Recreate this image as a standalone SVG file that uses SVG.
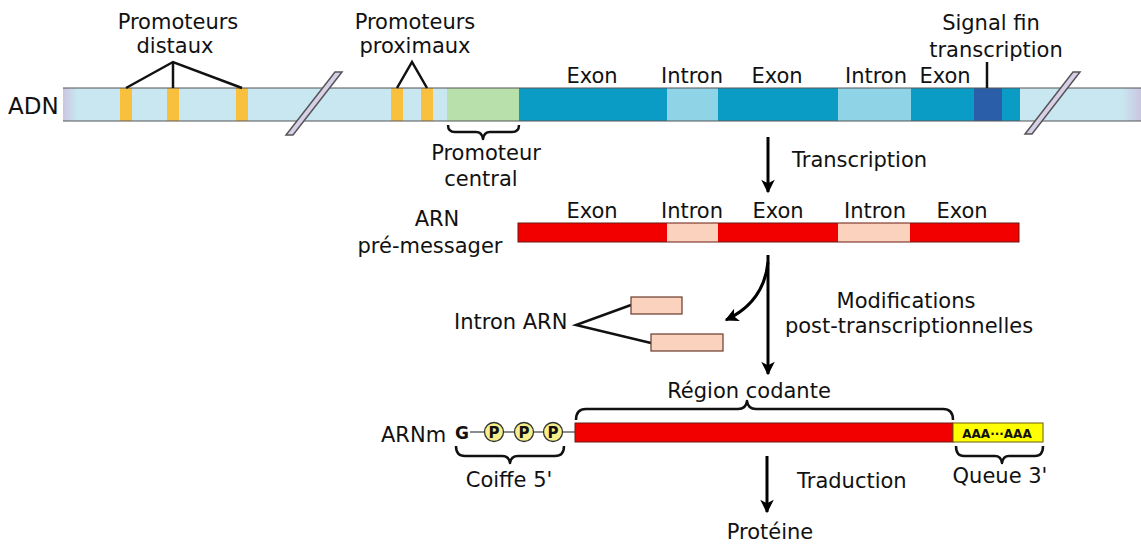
<svg xmlns="http://www.w3.org/2000/svg" width="1141" height="544" viewBox="0 0 1141 544">
  <defs>
    <linearGradient id="fadeL" x1="0" y1="0" x2="1" y2="0">
      <stop offset="0" stop-color="#cbc5e0"/>
      <stop offset="1" stop-color="#c8e7f1"/>
    </linearGradient>
    <linearGradient id="fadeR" x1="0" y1="0" x2="1" y2="0">
      <stop offset="0" stop-color="#c8e7f1"/>
      <stop offset="1" stop-color="#cbc5e0"/>
    </linearGradient>
    <marker id="head" viewBox="0 0 10 10" refX="9" refY="5" markerWidth="5" markerHeight="4.5" orient="auto" markerUnits="strokeWidth">
      <path d="M0,0 L10,5 L0,10 L2.5,5 Z" fill="#000"/>
    </marker>
  </defs>
  <style>
    text { font-family: "DejaVu Sans", "Liberation Sans", sans-serif; font-size: 21px; fill: #111; }
    .mid { text-anchor: middle; }
    .pointer { fill: none; stroke: #111; stroke-width: 2.5; }
    .brace { fill: none; stroke: #111; stroke-width: 2.5; stroke-linejoin: round; }
    .flow { fill: none; stroke: #000; stroke-width: 3; marker-end: url(#head); }
    .edge { stroke: #555; stroke-width: 1.2; }
    .rna { stroke: #6a1a10; stroke-width: 1; }
    .slash { fill: #d8d0e8; stroke: #555; stroke-width: 1.5; }
    .phos { fill: #f7f08a; stroke: #333; stroke-width: 1.3; }
    .p { font-size: 15px; font-weight: bold; text-anchor: middle; }
  </style>
  <rect width="1141" height="544" fill="#fff"/>

  <!-- DNA strand -->
  <g id="adn">
    <rect x="63" y="88" width="1078" height="33" fill="#c8e7f1"/>
    <rect x="63" y="88" width="14" height="33" fill="url(#fadeL)"/>
    <rect x="1122" y="88" width="19" height="33" fill="url(#fadeR)"/>
    <rect x="120" y="88" width="12" height="33" fill="#f9c03e"/>
    <rect x="167" y="88" width="12" height="33" fill="#f9c03e"/>
    <rect x="236" y="88" width="12" height="33" fill="#f9c03e"/>
    <rect x="391" y="88" width="12" height="33" fill="#f9c03e"/>
    <rect x="421" y="88" width="12" height="33" fill="#f9c03e"/>
    <rect x="447" y="88" width="72" height="33" fill="#b7e0aa"/>
    <rect x="519" y="88" width="148" height="33" fill="#0b9cc6"/>
    <rect x="667" y="88" width="51" height="33" fill="#8ed3e6"/>
    <rect x="718" y="88" width="120" height="33" fill="#0b9cc6"/>
    <rect x="838" y="88" width="73" height="33" fill="#8ed3e6"/>
    <rect x="911" y="88" width="63" height="33" fill="#0b9cc6"/>
    <rect x="974" y="88" width="28" height="33" fill="#2b5ea8"/>
    <rect x="1002" y="88" width="18" height="33" fill="#0b9cc6"/>
    <line class="edge" x1="63" y1="88" x2="1141" y2="88"/>
    <line class="edge" x1="63" y1="121" x2="1141" y2="121"/>
    <!-- break marks -->
    <polygon class="slash" points="286,135 293,135 342,72 335,72"/>
    <polygon class="slash" points="1025,134 1032,134 1080,72 1073,72"/>
    <text x="8" y="114" style="font-size:23px">ADN</text>
  </g>

  <g id="promoteurs-distaux">
    <text class="mid" x="178" y="29">Promoteurs</text>
    <text class="mid" x="175" y="53">distaux</text>
    <polyline class="pointer" points="126,88 173,62 242,88"/>
    <line class="pointer" x1="173" y1="62" x2="173" y2="88"/>
  </g>

  <g id="promoteurs-proximaux">
    <text class="mid" x="415" y="29">Promoteurs</text>
    <text class="mid" x="415" y="53">proximaux</text>
    <polyline class="pointer" points="397,88 412,62 427,88"/>
  </g>

  <g id="promoteur-central">
    <path class="brace" d="M448,125 Q448,132 455,132 L476,132 Q482,132 483,139 Q484,132 490,132 L512,132 Q519,132 519,125"/>
    <text class="mid" x="486" y="160">Promoteur</text>
    <text class="mid" x="481" y="186">central</text>
  </g>

  <g id="labels-adn">
    <text class="mid" x="592" y="83">Exon</text>
    <text class="mid" x="692" y="83">Intron</text>
    <text class="mid" x="777" y="83">Exon</text>
    <text class="mid" x="876" y="83">Intron</text>
    <text class="mid" x="945" y="83">Exon</text>
  </g>

  <g id="signal-fin">
    <text class="mid" x="991" y="30">Signal fin</text>
    <text class="mid" x="996" y="57">transcription</text>
    <line class="pointer" x1="987" y1="62" x2="987" y2="88"/>
  </g>

  <!-- pre-messenger RNA -->
  <g id="arn-pre-messager">
    <text class="mid" x="437" y="226">ARN</text>
    <text class="mid" x="430" y="253">pré-messager</text>
    <rect x="518" y="223" width="149" height="19" fill="#f20000"/>
    <rect x="667" y="223" width="51" height="19" fill="#fbd2be"/>
    <rect x="718" y="223" width="120" height="19" fill="#f20000"/>
    <rect x="838" y="223" width="72" height="19" fill="#fbd2be"/>
    <rect x="910" y="223" width="109" height="19" fill="#f20000"/>
    <rect class="rna" x="518" y="223" width="501" height="19" fill="none"/>
    <text class="mid" x="592" y="218">Exon</text>
    <text class="mid" x="692" y="218">Intron</text>
    <text class="mid" x="778" y="218">Exon</text>
    <text class="mid" x="875" y="218">Intron</text>
    <text class="mid" x="962" y="218">Exon</text>
  </g>

  <g id="introns-arn">
    <text x="454" y="329">Intron ARN</text>
    <polyline class="pointer" points="631,305 576,325 651,343"/>
    <rect x="631" y="297" width="51" height="17" fill="#fbd2be" stroke="#6a3a2a" stroke-width="1.2"/>
    <rect x="651" y="334" width="72" height="17" fill="#fbd2be" stroke="#6a3a2a" stroke-width="1.2"/>
  </g>

  <!-- mature mRNA -->
  <g id="arnm">
    <text x="381" y="442">ARNm</text>
    <text x="455" y="439" style="font-size:17px;font-weight:bold">G</text>
    <line x1="470" y1="432" x2="576" y2="432" stroke="#666" stroke-width="1.3"/>
    <circle class="phos" cx="494" cy="432" r="9.5"/>
    <text class="p" x="494" y="438">P</text>
    <circle class="phos" cx="524" cy="432" r="9.5"/>
    <text class="p" x="524" y="438">P</text>
    <circle class="phos" cx="553" cy="432" r="9.5"/>
    <text class="p" x="553" y="438">P</text>
    <rect class="rna" x="575" y="423" width="378" height="19" fill="#f20000"/>
    <rect x="953" y="423" width="90" height="19" fill="#ffff00" stroke="#6a5a10" stroke-width="1"/>
    <text class="mid" x="997" y="438" style="font-size:12px;font-weight:bold">AAA···AAA</text>
  </g>

  <g id="region-codante">
    <path class="brace" d="M576,420 Q576,409 586,409 L738,409 Q746,409 747,401 Q748,409 756,409 L943,409 Q953,409 953,420"/>
    <text class="mid" x="749" y="398">Région codante</text>
  </g>

  <g id="coiffe">
    <path class="brace" d="M456,446 Q456,456 465,456 L502,456 Q509,456 510,463 Q511,456 518,456 L555,456 Q564,456 564,446"/>
    <text class="mid" x="509" y="487">Coiffe 5'</text>
  </g>

  <g id="queue">
    <path class="brace" d="M956,446 Q956,456 964,456 L995,456 Q1001,456 1002,463 Q1003,456 1009,456 L1035,456 Q1043,456 1043,446"/>
    <text class="mid" x="1000" y="483">Queue 3'</text>
  </g>

  <g id="proteine">
    <text class="mid" x="770" y="539">Protéine</text>
  </g>

  <!-- process arrows -->
  <g id="connecteurs">
    <line class="flow" x1="768" y1="137" x2="768" y2="192"/>
    <line class="flow" x1="768" y1="255" x2="768" y2="374"/>
    <path class="flow" d="M768,262 Q764,302 726,320"/>
    <line class="flow" x1="767" y1="456" x2="767" y2="512"/>
    <text x="792" y="167">Transcription</text>
    <text class="mid" x="906" y="308">Modifications</text>
    <text class="mid" x="909" y="333">post-transcriptionnelles</text>
    <text x="797" y="488">Traduction</text>
  </g>
</svg>
